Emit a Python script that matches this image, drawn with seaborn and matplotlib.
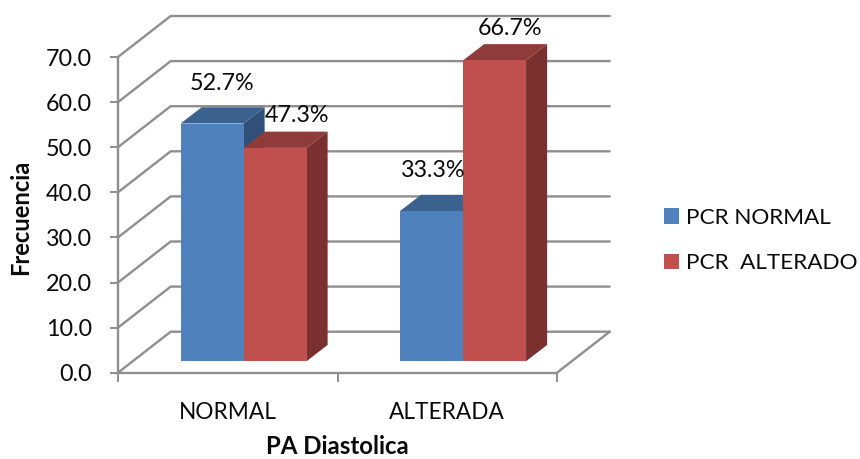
import matplotlib
matplotlib.use("Agg")
import matplotlib.pyplot as plt
from matplotlib.transforms import Affine2D
import pandas as pd
import seaborn as sns

categories = ["NORMAL", "ALTERADA"]
series_names = ["PCR NORMAL", "PCR  ALTERADO"]
pcr_normal = [52.7, 33.3]
pcr_alterado = [47.3, 66.7]
y_ticks = [0, 10, 20, 30, 40, 50, 60, 70]

FRONT = ["#4F81BD", "#C0504D"]
TOP = ["#3B618F", "#8F3B39"]
SIDE = ["#30507A", "#7A302E"]
GRID = "#8E8E8E"
INK = "#0A0A0A"
TEXT_SIZE = 16.3

# Oblique projection, expressed in data units
WALL_DX, WALL_DY = 0.240, 9.09
BAR_DX, BAR_DY = 0.096, 3.6
SHIFT_X, SHIFT_Y = 0.072, 2.55

sns.set_theme(style="white")
plt.rcParams["font.family"] = ["Lato", "DejaVu Sans"]

table = pd.DataFrame({
    "categoria": categories * 2,
    "serie": [series_names[0]] * 2 + [series_names[1]] * 2,
    "valor": pcr_normal + pcr_alterado,
})

fig = plt.figure(figsize=(8.6, 4.59), dpi=100)
W, H = 860, 459
ax = fig.add_axes([118 / W, (H - 372.7) / H, 439 / W, 315.7 / H])

sns.barplot(data=table, x="categoria", y="valor", hue="serie", order=categories,
            hue_order=series_names, palette=FRONT, width=0.574, gap=0,
            saturation=1, errorbar=None, ax=ax, zorder=6, linewidth=0)

ax.set_xlim(-0.5, 1.5)
ax.set_ylim(0, 70)
ax.set_xlabel("")
ax.set_ylabel("")

# Floor and walls behind the bars
line_style = dict(color=GRID, lw=1.7, clip_on=False, zorder=1, solid_capstyle="round")
for v in y_ticks:
    ax.plot([-0.5, -0.5 + WALL_DX, 1.5 + WALL_DX],
            [v, v + WALL_DY, v + WALL_DY], **line_style)
ax.plot([1.5, 1.5 + WALL_DX], [0, WALL_DY], **line_style)

# Extruded faces, with the front rectangles moved onto the chart floor
shift = Affine2D().translate(SHIFT_X, SHIFT_Y) + ax.transData
label_offsets = [[(10, 40), (2, 41)], [(22, 32), (15, 32)]]
for s, container in enumerate(ax.containers):
    for c, bar in enumerate(container):
        bar.set_transform(shift)
        bar.set_clip_on(False)
        x0 = bar.get_x() + SHIFT_X
        x1 = x0 + bar.get_width()
        y0 = SHIFT_Y
        y1 = y0 + bar.get_height()
        ax.fill([x0, x1, x1 + BAR_DX, x0 + BAR_DX],
                [y1, y1, y1 + BAR_DY, y1 + BAR_DY],
                color=TOP[s], lw=0, clip_on=False, zorder=3 + s)
        ax.fill([x1, x1 + BAR_DX, x1 + BAR_DX, x1],
                [y0, y0 + BAR_DY, y1 + BAR_DY, y1],
                color=SIDE[s], lw=0, clip_on=False, zorder=3 + s)
        ax.annotate(f"{bar.get_height():.1f}%", ((x0 + x1) / 2, y1),
                    xytext=label_offsets[s][c], textcoords="offset pixels",
                    ha="center", va="center", fontsize=16.8, color=INK,
                    annotation_clip=False, zorder=8)

for side in ["top", "right"]:
    ax.spines[side].set_visible(False)
for side in ["left", "bottom"]:
    ax.spines[side].set_color(GRID)
    ax.spines[side].set_linewidth(1.7)

ax.set_yticks(y_ticks, [f"{v:.1f}" for v in y_ticks])
ax.set_xticks([0, 1], categories)
ax.set_xticks([-0.5, 0.5, 1.5], minor=True)
ax.tick_params(axis="y", which="major", left=True, length=5.5, width=1.4, color=GRID,
               labelsize=16.8, labelcolor=INK, pad=13)
ax.tick_params(axis="x", which="major", bottom=False, labelsize=TEXT_SIZE, labelcolor=INK, pad=15)
ax.tick_params(axis="x", which="minor", bottom=True, length=6.5, width=1.4, color=GRID)

fig.text(21 / W, 1 - 217 / H, "Frecuencia", rotation=90, ha="center", va="center",
         fontsize=17.1, fontweight="bold", color=INK)
fig.text(337 / W, 1 - 446 / H, "PA Diastolica", ha="center", va="center",
         fontsize=17.3, fontweight="bold", color=INK)

handles, labels = ax.get_legend_handles_labels()
ax.legend(handles, labels, loc="center left", bbox_to_anchor=(664 / W, 1 - 240.5 / H),
          bbox_transform=fig.transFigure, frameon=False, fontsize=16.2,
          handlelength=0.67, handleheight=0.67, handletextpad=0.33, labelspacing=1.12,
          borderpad=0, borderaxespad=0, labelcolor=INK)

fig.savefig("out.png", dpi=100)
